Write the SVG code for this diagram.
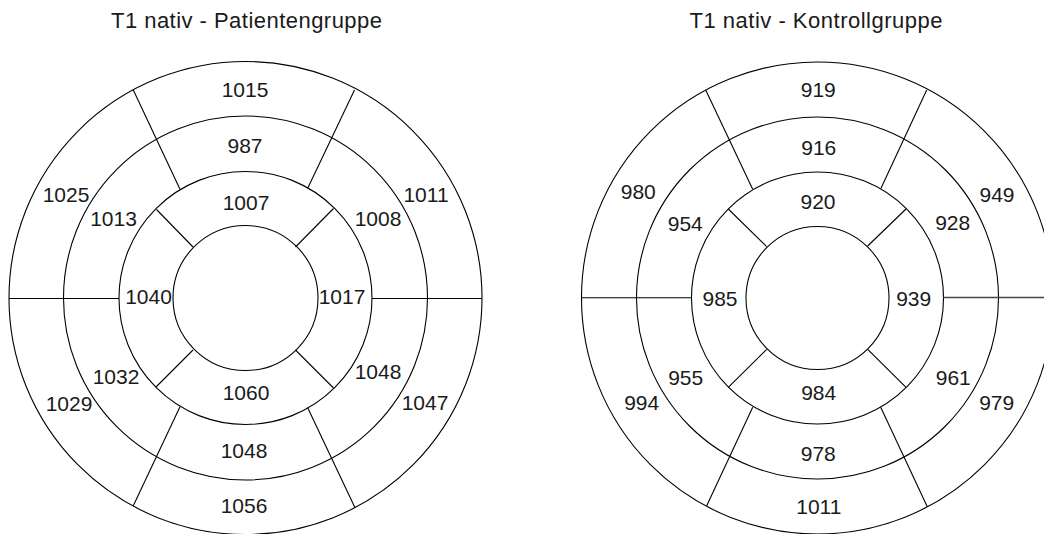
<svg xmlns="http://www.w3.org/2000/svg" width="1044" height="534" viewBox="0 0 1044 534">
<style>
.ring{fill:none;stroke:#000;stroke-width:1.1}
.sp{stroke:#000;stroke-width:1.1;fill:none}
.t{font-family:"Liberation Sans",Arial,Helvetica,sans-serif;font-size:21px;fill:#1a1a1a;text-anchor:middle}
.title{font-family:"Liberation Sans",Arial,Helvetica,sans-serif;font-size:22px;fill:#1a1a1a}
</style>
<rect width="1044" height="534" fill="#fff"/>

<g id="patienten">
<text class="title" x="111" y="27.5" textLength="271" lengthAdjust="spacing">T1 nativ - Patientengruppe</text>
<g id="patienten-rings">
<circle class="ring" cx="245.5" cy="298" r="236.5"/>
<circle class="ring" cx="245.5" cy="298" r="182"/>
<circle class="ring" cx="245.5" cy="298" r="126.5"/>
<circle class="ring" cx="245.5" cy="298" r="72.5"/>
</g>
<g id="patienten-lines">
<line class="sp" x1="133.3" y1="90" x2="180" y2="189.3"/>
<line class="sp" x1="354.5" y1="90" x2="307.7" y2="188.3"/>
<line class="sp" x1="180" y1="406.7" x2="133.3" y2="505.7"/>
<line class="sp" x1="307.7" y1="407.7" x2="355" y2="507.7"/>
<line class="sp" x1="9" y1="298.5" x2="119" y2="298.5"/>
<line class="sp" x1="372" y1="298.5" x2="482" y2="298.5"/>
<line class="sp" x1="156.5" y1="209.5" x2="193" y2="247"/>
<line class="sp" x1="333.5" y1="208.5" x2="295.5" y2="247"/>
<line class="sp" x1="193" y1="350" x2="156" y2="387"/>
<line class="sp" x1="295.5" y1="350" x2="333.5" y2="388"/>
</g>
<g id="patienten-labels">
<text class="t" x="245" y="96.7">1015</text>
<text class="t" x="245" y="153">987</text>
<text class="t" x="246" y="210">1007</text>
<text class="t" x="66" y="201.7">1025</text>
<text class="t" x="426" y="201.7">1011</text>
<text class="t" x="113.5" y="226">1013</text>
<text class="t" x="378" y="226">1008</text>
<text class="t" x="148.5" y="304">1040</text>
<text class="t" x="342" y="304">1017</text>
<text class="t" x="116" y="384.3">1032</text>
<text class="t" x="378" y="379.3">1048</text>
<text class="t" x="69" y="410.7">1029</text>
<text class="t" x="425" y="410">1047</text>
<text class="t" x="246" y="400">1060</text>
<text class="t" x="244" y="458.3">1048</text>
<text class="t" x="244" y="513.3">1056</text>
</g>
</g>

<g id="kontroll">
<text class="title" x="689.5" y="27.5" textLength="253" lengthAdjust="spacing">T1 nativ - Kontrollgruppe</text>
<g id="kontroll-rings">
<circle class="ring" cx="817.5" cy="298" r="236"/>
<circle class="ring" cx="817.5" cy="298" r="181"/>
<circle class="ring" cx="817.5" cy="298" r="126"/>
<circle class="ring" cx="817.5" cy="298" r="71.5"/>
</g>
<g id="kontroll-lines">
<line class="sp" x1="705.7" y1="90" x2="752.7" y2="189.3"/>
<line class="sp" x1="926.7" y1="90" x2="881" y2="188.3"/>
<line class="sp" x1="752.7" y1="407.3" x2="706.7" y2="505.7"/>
<line class="sp" x1="880.7" y1="407.3" x2="927.3" y2="506.7"/>
<line class="sp" x1="581.5" y1="297.8" x2="691.7" y2="297.8"/>
<line x1="943.3" y1="297.5" x2="1044" y2="297.5" stroke="#444" stroke-width="1.5"/>
<line class="sp" x1="728.3" y1="209" x2="766.7" y2="246.7"/>
<line class="sp" x1="906" y1="209" x2="867.7" y2="246"/>
<line class="sp" x1="766.7" y1="349.3" x2="728.3" y2="387.3"/>
<line class="sp" x1="867.7" y1="349.3" x2="906" y2="387.3"/>
</g>
<g id="kontroll-labels">
<text class="t" x="818.3" y="96.7">919</text>
<text class="t" x="818.8" y="155">916</text>
<text class="t" x="818" y="209.3">920</text>
<text class="t" x="638.3" y="199.3">980</text>
<text class="t" x="997" y="202.3">949</text>
<text class="t" x="685.3" y="231">954</text>
<text class="t" x="952.7" y="230">928</text>
<text class="t" x="720" y="306">985</text>
<text class="t" x="913.7" y="306">939</text>
<text class="t" x="685.7" y="385">955</text>
<text class="t" x="953.3" y="385">961</text>
<text class="t" x="641.7" y="410">994</text>
<text class="t" x="996.7" y="410">979</text>
<text class="t" x="818.7" y="400">984</text>
<text class="t" x="818.3" y="460.7">978</text>
<text class="t" x="818.8" y="514">1011</text>
</g>
</g>
</svg>
